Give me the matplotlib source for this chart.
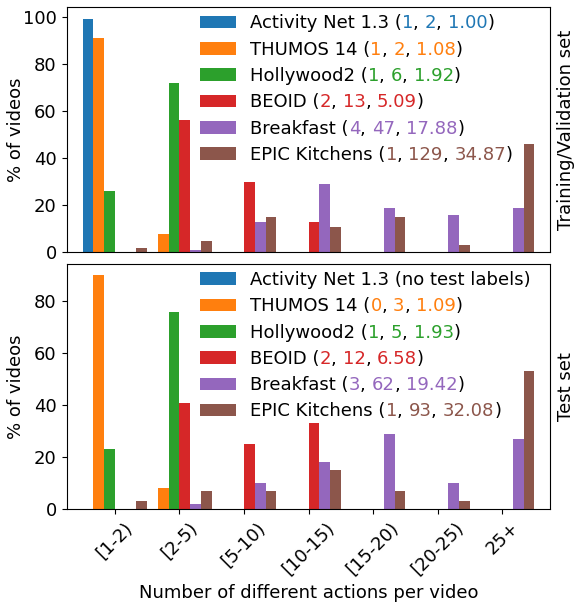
import numpy as np
import matplotlib.pyplot as plt

plt.rcParams['font.size'] = 13

bins = ['[1-2)', '[2-5)', '[5-10)', '[10-15)', '[15-20)', '[20-25)', '25+']
names = ['Activity Net 1.3', 'THUMOS 14', 'Hollywood2', 'BEOID', 'Breakfast', 'EPIC Kitchens']
colors = ['#1f77b4', '#ff7f0e', '#2ca02c', '#d62728', '#9467bd', '#8c564b']

# training / validation set, % of videos per bin
anet_train = [99, 0, 0, 0, 0, 0, 0]
thumos_train = [91, 8, 0, 0, 0, 0, 0]
holly_train = [26, 72, 0, 0, 0, 0, 0]
beoid_train = [0, 56, 30, 13, 0, 0, 0]
breakfast_train = [0, 1, 13, 29, 19, 16, 19]
epic_train = [2, 5, 15, 11, 15, 3, 46]

# test set (no labels for Activity Net)
anet_test = [0, 0, 0, 0, 0, 0, 0]
thumos_test = [90, 8, 0, 0, 0, 0, 0]
holly_test = [23, 76, 0, 0, 0, 0, 0]
beoid_test = [0, 41, 25, 33, 0, 0, 0]
breakfast_test = [0, 2, 10, 18, 29, 10, 27]
epic_test = [3, 7, 7, 15, 7, 3, 53]

# (min, max, mean) actions per video
train_stats = [('1', '2', '1.00'), ('1', '2', '1.08'), ('1', '6', '1.92'),
               ('2', '13', '5.09'), ('4', '47', '17.88'), ('1', '129', '34.87')]
test_stats = [None, ('0', '3', '1.09'), ('1', '5', '1.93'),
              ('2', '12', '6.58'), ('3', '62', '19.42'), ('1', '93', '32.08')]

train_data = [anet_train, thumos_train, holly_train, beoid_train, breakfast_train, epic_train]
test_data = [anet_test, thumos_test, holly_test, beoid_test, breakfast_test, epic_test]


def draw_panel(ax, data, stats, side_label):
    x = np.arange(len(bins))
    w = 1 / 6
    for i, (vals, c) in enumerate(zip(data, colors)):
        ax.bar(x + (i - 2.5) * w, vals, width=w, color=c, label=names[i])
    ax.set_xlim(-0.75, len(bins) - 0.25)
    ax.set_ylabel('% of videos')
    ax.yaxis.set_label_coords(-0.086, 0.5)
    ax.text(1.033, 0.5, side_label, transform=ax.transAxes, rotation=90,
            ha='center', va='center', fontsize=13)

    # legend with plain prefix, numbers appended in colour
    labels = []
    for n, s in zip(names, stats):
        labels.append(n + ' (no test labels)' if s is None else n + ' (')
    handles, _ = ax.get_legend_handles_labels()
    leg = ax.legend(handles, labels, loc='upper left', bbox_to_anchor=(0.26, 1.0),
                    frameon=False, borderaxespad=0.0, labelspacing=0.46,
                    handletextpad=0.8)
    for txt, s, c in zip(leg.get_texts(), stats, colors):
        if s is None:
            continue
        pieces = [(s[0], c), (', ', 'k'), (s[1], c), (', ', 'k'), (s[2], c), (')', 'k')]
        prev = txt
        for p, pc in pieces:
            prev = ax.annotate(p, xy=(1, 0), xycoords=prev, va='bottom', ha='left',
                               color=pc, fontsize=13, zorder=6)


fig, (ax1, ax2) = plt.subplots(2, 1, figsize=(5.74, 6.02), dpi=100, sharex=True)
fig.subplots_adjust(left=0.116, right=0.959, top=0.988, bottom=0.1545, hspace=0.046)

draw_panel(ax1, train_data, train_stats, 'Training/Validation set')
draw_panel(ax2, test_data, test_stats, 'Test set')

ax1.tick_params(axis='x', bottom=False)
ax2.set_xticks(np.arange(len(bins)))
ax2.set_xticklabels(bins, rotation=45)
ax2.set_xlabel('Number of different actions per video')

fig.savefig('out.png', dpi=100)
